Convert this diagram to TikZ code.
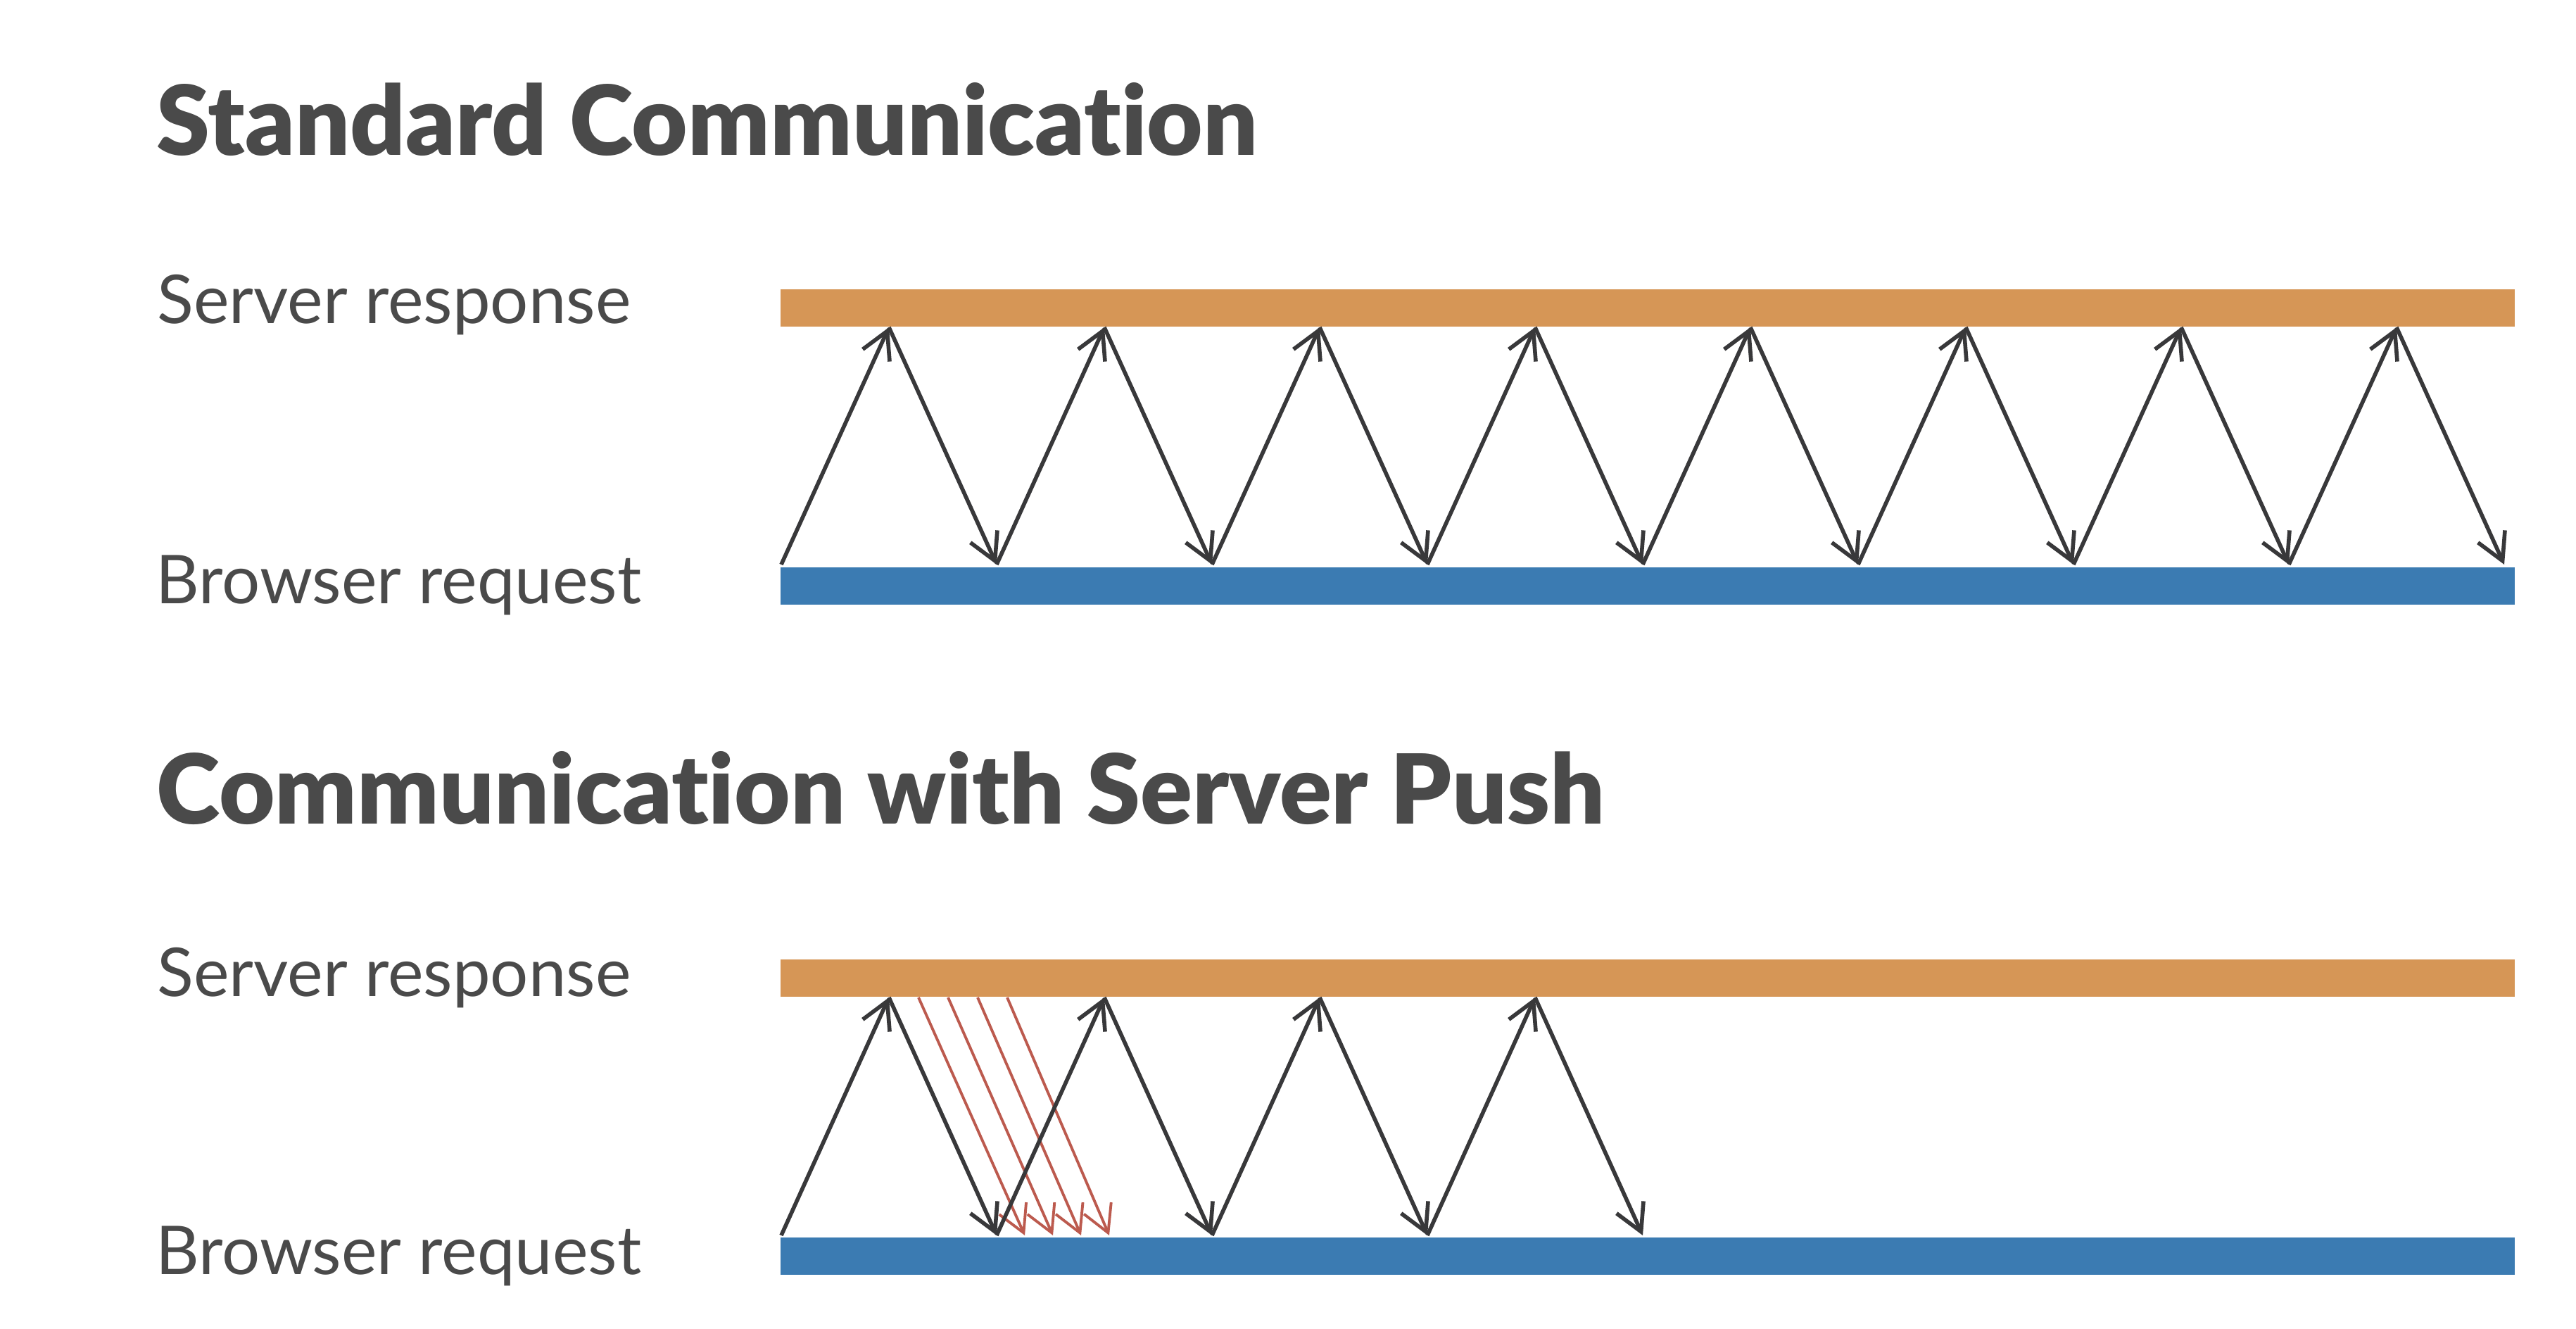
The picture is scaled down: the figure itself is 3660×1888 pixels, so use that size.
\documentclass[tikz,border=0pt]{standalone}
\usepackage{fontspec}
\setmainfont{Lato}[Ligatures=NoCommon]
\newfontfamily\titlefont{Lato Black}[Ligatures=NoCommon]
\usepackage{tikz}
\usetikzlibrary{arrows.meta, positioning}

\definecolor{srvorange}{HTML}{D69656}
\definecolor{brwblue}{HTML}{3B7BB2}
\definecolor{txtgray}{HTML}{4A4A4A}
\definecolor{arrgray}{HTML}{38383A}
\definecolor{pushred}{HTML}{BC5A4E}

\begin{document}
\begin{tikzpicture}[
    x=0.01cm, y=-0.01cm,
    title/.style={font=\titlefont\fontsize{39}{42}\selectfont, text=txtgray, anchor=base west, inner sep=0},
    lbl/.style={font=\fontsize{27.2}{30}\selectfont, text=txtgray, anchor=base west, inner sep=0},
    bar/.style={minimum width=24.63cm, minimum height=0.53cm, inner sep=0, anchor=north west},
    arr/.style={-{Straight Barb[length=3.8mm, width=4.2mm]}, line width=1.6pt, arrgray},
    push/.style={arr, pushred, line width=1.1pt},
]
\useasboundingbox[fill=white] (0,0) rectangle (3660,1888);

% (A) standard
\node[title] (titleA) at (222,221) {Standard Communication};
\node[lbl] (srvlblA) at (223,459) {Server response};
\node[lbl] (brwlblA) at (221,857) {Browser request};
\node[bar, fill=srvorange] (srvA) at (1108,410) {};
\node[bar, fill=brwblue] (brwA) at (1108,805) {};

\foreach \i in {0,...,8} \coordinate (lowA\i) at ({1110+306*\i},802);
\foreach \i in {0,...,7} \coordinate (highA\i) at ({1263+306*\i},465);
\foreach \i [evaluate=\i as \j using int(\i+1)] in {0,...,7} {
  \draw[arr] (lowA\i) -- (highA\i);
  \draw[arr] (highA\i) -- (lowA\j);
}

% (B) server push
\node[title] (titleB) at (222,1170) {Communication with Server Push};
\node[lbl] (srvlblB) at (223,1415) {Server response};
\node[lbl] (brwlblB) at (221,1810) {Browser request};
\node[bar, fill=srvorange] (srvB) at (1108,1362) {};
\node[bar, fill=brwblue] (brwB) at (1108,1757) {};

\foreach \k in {1,...,4} {
  \coordinate (pushtop\k) at ({1263+42*\k},1417);
  \coordinate (pushlow\k) at ({1416+40*\k},1755);
  \draw[push] (pushtop\k) -- (pushlow\k);
}

\foreach \i in {0,...,4} \coordinate (lowB\i) at ({1110+306*\i},1755);
\foreach \i in {0,...,3} \coordinate (highB\i) at ({1263+306*\i},1417);
\foreach \i [evaluate=\i as \j using int(\i+1)] in {0,...,3} {
  \draw[arr] (lowB\i) -- (highB\i);
  \draw[arr] (highB\i) -- (lowB\j);
}

\end{tikzpicture}
\end{document}
